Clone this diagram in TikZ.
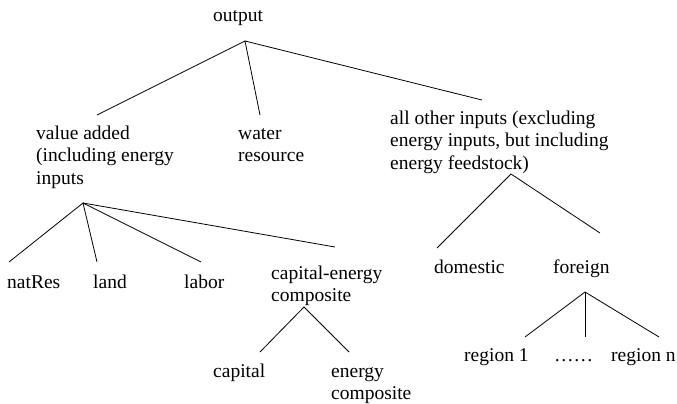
\documentclass[tikz,border=0pt]{standalone}
\usepackage{fontspec}
\setmainfont{Liberation Serif}
\begin{document}
\begin{tikzpicture}[x=1pt,y=-1pt,
  lbl/.style={anchor=base west,align=left,inner sep=0pt,font=\fontsize{19.5}{22.6}\selectfont},
  edge/.style={line width=0.8pt,black}]
\useasboundingbox (0,0) rectangle (677,404);
% nodes (base anchor = baseline of last line)
\node[lbl] (out) at (213,22) {output};
\node[lbl] (va) at (36,184.2) {value added\\(including energy\\inputs};
\node[lbl] (wr) at (238,161.6) {water\\resource};
\node[lbl] (ao) at (390,169.2) {all other inputs (excluding\\energy inputs, but including\\energy feedstock)};
\node[lbl] (nr) at (7,288) {natRes};
\node[lbl] (ld) at (93,288) {land};
\node[lbl] (lb) at (184,288) {labor};
\node[lbl] (ce) at (271,301.6) {capital-energy\\composite};
\node[lbl] (cap) at (213,377) {capital};
\node[lbl] (ec) at (331,399.6) {energy\\composite};
\node[lbl] (dom) at (434,273) {domestic};
\node[lbl] (for) at (553,273) {foreign};
\node[lbl] (r1) at (464,361) {region 1};
\node[lbl] (dots) at (554,361) {\dots\dots};
\node[lbl] (rn) at (611,361) {region n};
% connector ends
\coordinate (out-b) at (245,41);
\coordinate (va-t) at (97,115);
\coordinate (wr-t) at (260,115);
\coordinate (ao-t) at (482,100);
\coordinate (va-b) at (83,203);
\coordinate (nr-t) at (9,262);
\coordinate (ld-t) at (97,262);
\coordinate (lb-t) at (201,262);
\coordinate (ce-t) at (335,247);
\coordinate (ce-b) at (304,307);
\coordinate (cap-t) at (260,352);
\coordinate (ec-t) at (349,352);
\coordinate (ao-b) at (511,174);
\coordinate (dom-t) at (437,248);
\coordinate (for-t) at (600,233);
\coordinate (for-b) at (585,292);
\coordinate (r1-t) at (525,337);
\coordinate (dots-t) at (585,337);
\coordinate (rn-t) at (659,337);
% connectors
\draw[edge] (va-t) -- (out-b) -- (wr-t);
\draw[edge] (out-b) -- (ao-t);
\draw[edge] (nr-t) -- (va-b) -- (ld-t);
\draw[edge] (va-b) -- (lb-t);
\draw[edge] (va-b) -- (ce-t);
\draw[edge] (cap-t) -- (ce-b) -- (ec-t);
\draw[edge] (dom-t) -- (ao-b) -- (for-t);
\draw[edge] (r1-t) -- (for-b) -- (rn-t);
\draw[edge] (for-b) -- (dots-t);
\end{tikzpicture}
\end{document}
